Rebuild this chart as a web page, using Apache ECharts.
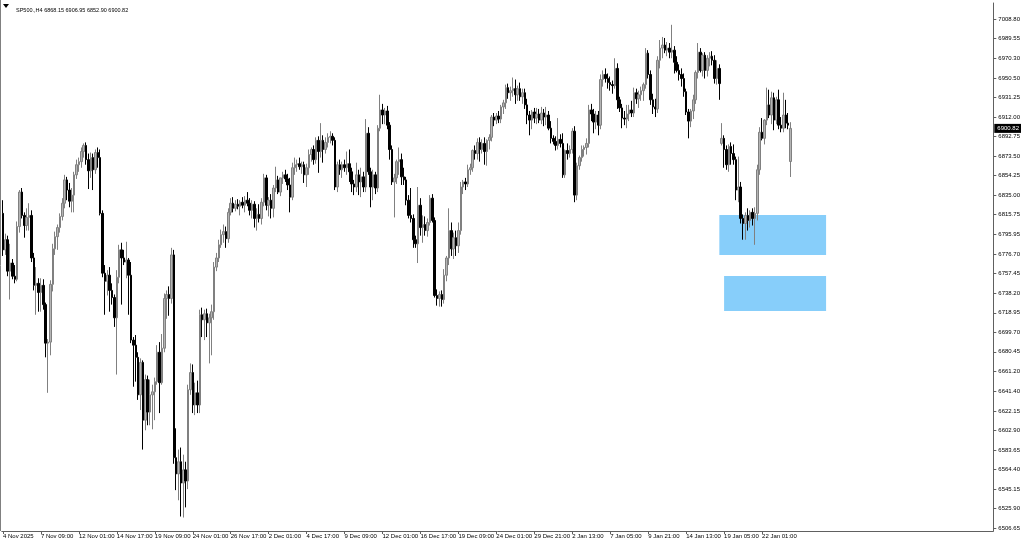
<!DOCTYPE html>
<html>
<head>
<meta charset="utf-8">
<script src="https://cdn.jsdelivr.net/npm/echarts@6/dist/echarts.min.js"></script>
<style>
html,body{margin:0;padding:0;background:#fff;}
#chart{width:1024px;height:542px;}
</style>
</head>
<body>
<div id="chart"></div>
<script>
// ---- DATA ----
const symbolTitle = 'SP500.,H4';
const FULL = [1, 5, 9, 13, 17, 21];
// trading sessions (day label, H4 bar opening hours)
const sessions = [
  ['4 Nov', [17, 21]], ['5 Nov', FULL], ['6 Nov', FULL], ['7 Nov', FULL],
  ['10 Nov', FULL], ['11 Nov', FULL], ['12 Nov', FULL], ['13 Nov', FULL], ['14 Nov', FULL],
  ['17 Nov', FULL], ['18 Nov', FULL], ['19 Nov', FULL], ['20 Nov', FULL], ['21 Nov', FULL],
  ['24 Nov', FULL], ['25 Nov', FULL], ['26 Nov', FULL], ['27 Nov', [1, 5, 9, 13, 17]], ['28 Nov', [1, 5, 9]],
  ['1 Dec', FULL], ['2 Dec', FULL], ['3 Dec', FULL], ['4 Dec', FULL], ['5 Dec', FULL],
  ['8 Dec', FULL], ['9 Dec', FULL], ['10 Dec', FULL], ['11 Dec', FULL], ['12 Dec', FULL],
  ['15 Dec', FULL], ['16 Dec', FULL], ['17 Dec', FULL], ['18 Dec', FULL], ['19 Dec', FULL],
  ['22 Dec', FULL], ['23 Dec', FULL], ['24 Dec', [1, 5, 9, 13, 17]], ['26 Dec', FULL],
  ['29 Dec', FULL], ['30 Dec', FULL], ['31 Dec', FULL], ['2 Jan', FULL],
  ['5 Jan', FULL], ['6 Jan', FULL], ['7 Jan', FULL], ['8 Jan', FULL], ['9 Jan', FULL],
  ['12 Jan', FULL], ['13 Jan', FULL], ['14 Jan', FULL], ['15 Jan', FULL], ['16 Jan', FULL],
  ['19 Jan', [1, 5, 9, 13, 17]], ['20 Jan', FULL], ['21 Jan', FULL], ['22 Jan', FULL], ['23 Jan', FULL],
  ['26 Jan', [1]]
];

// [open, high, low, close] per H4 bar
const ohlc = [
[6817,6830,6775,6781],[6781,6797,6776,6791],[6791,6795,6755,6760],[6760,6787,6732,6768],[6768,6772,6752,6755],
[6755,6766,6748,6752],[6752,6809,6750,6804],[6804,6840,6798,6838],[6838,6842,6812,6815],[6815,6818,6793,6805],
[6805,6822,6800,6813],[6813,6827,6800,6815],[6815,6820,6769,6773],[6773,6778,6741,6746],[6746,6764,6717,6748],
[6748,6753,6720,6739],[6739,6753,6720,6746],[6746,6752,6722,6727],[6727,6729,6675,6689],[6689,6693,6640,6690],
[6690,6751,6677,6747],[6747,6787,6740,6782],[6782,6799,6776,6794],[6794,6806,6781,6803],[6803,6817,6798,6814],
[6814,6832,6810,6827],[6827,6855,6822,6850],[6850,6853,6830,6840],[6840,6847,6823,6829],[6829,6842,6818,6835],
[6835,6858,6818,6855],[6855,6870,6851,6865],[6865,6872,6858,6868],[6868,6882,6862,6878],[6878,6886,6872,6884],
[6884,6887,6865,6870],[6870,6876,6841,6859],[6859,6877,6852,6872],[6872,6876,6840,6860],[6860,6880,6856,6877],
[6877,6882,6862,6872],[6872,6880,6815,6817],[6817,6820,6754,6758],[6758,6766,6717,6750],[6750,6761,6736,6756],
[6756,6764,6720,6741],[6741,6748,6727,6734],[6734,6737,6705,6714],[6714,6761,6658,6754],[6754,6786,6748,6781],
[6781,6788,6727,6773],[6773,6781,6766,6769],[6769,6789,6753,6771],[6771,6773,6717,6756],[6756,6769,6689,6692],
[6692,6695,6646,6687],[6687,6697,6651,6675],[6675,6680,6633,6638],[6638,6674,6623,6670],[6670,6672,6584,6613],
[6613,6658,6603,6653],[6653,6657,6608,6621],[6621,6653,6608,6638],[6638,6648,6604,6641],[6641,6655,6613,6651],
[6651,6687,6648,6680],[6680,6690,6620,6650],[6650,6698,6648,6684],[6684,6738,6680,6733],[6733,6741,6713,6737],
[6737,6745,6716,6733],[6733,6783,6728,6776],[6776,6781,6570,6576],[6576,6605,6544,6560],[6560,6584,6534,6572],
[6572,6586,6518,6551],[6551,6579,6517,6564],[6564,6572,6527,6553],[6553,6648,6545,6643],[6643,6669,6638,6660],
[6660,6668,6620,6628],[6628,6650,6618,6640],[6640,6652,6620,6628],[6628,6722,6620,6717],[6717,6724,6695,6712],
[6712,6722,6692,6718],[6718,6723,6695,6709],[6709,6718,6669,6714],[6714,6727,6677,6720],[6720,6769,6712,6764],
[6764,6778,6760,6773],[6773,6791,6769,6786],[6786,6801,6783,6796],[6796,6806,6788,6799],[6799,6804,6783,6792],
[6792,6822,6788,6818],[6818,6832,6815,6827],[6827,6833,6818,6822],[6822,6830,6819,6826],[6826,6831,6821,6824],
[6824,6830,6815,6828],[6828,6833,6822,6825],[6825,6834,6818,6830],[6830,6838,6824,6827],[6827,6832,6815,6820],
[6820,6830,6812,6826],[6826,6829,6803,6812],[6812,6822,6800,6816],[6816,6826,6808,6812],[6812,6832,6806,6828],
[6828,6856,6824,6852],[6852,6855,6820,6825],[6825,6833,6814,6830],[6830,6836,6812,6822],[6822,6845,6813,6842],
[6842,6863,6838,6850],[6850,6854,6836,6838],[6838,6852,6834,6852],[6852,6858,6846,6855],[6855,6860,6848,6851],
[6851,6856,6840,6845],[6845,6852,6818,6833],[6833,6867,6830,6862],[6862,6872,6855,6865],[6865,6870,6858,6866],
[6866,6872,6860,6863],[6863,6868,6856,6865],[6865,6868,6847,6855],[6855,6866,6843,6862],[6862,6880,6855,6875],
[6875,6882,6868,6880],[6880,6884,6865,6870],[6870,6892,6866,6889],[6889,6893,6857,6878],[6878,6906,6872,6889],
[6889,6894,6867,6880],[6880,6892,6876,6887],[6887,6896,6882,6892],[6892,6898,6886,6893],[6893,6896,6884,6889],
[6889,6892,6840,6843],[6843,6868,6838,6865],[6865,6870,6855,6860],[6860,6868,6852,6865],[6865,6870,6858,6862],
[6862,6878,6855,6866],[6866,6880,6848,6858],[6858,6862,6838,6846],[6846,6850,6835,6843],[6843,6867,6838,6855],
[6855,6860,6835,6848],[6848,6862,6833,6853],[6853,6858,6838,6843],[6843,6910,6838,6896],[6896,6902,6855,6858],
[6858,6862,6823,6843],[6843,6860,6830,6855],[6855,6858,6836,6842],[6842,6904,6838,6901],[6901,6934,6898,6919],
[6919,6925,6905,6914],[6914,6921,6905,6918],[6918,6923,6900,6904],[6904,6907,6870,6880],[6880,6884,6845,6848],
[6848,6856,6813,6852],[6852,6870,6846,6868],[6868,6882,6855,6870],[6870,6876,6845,6853],[6853,6862,6845,6850],
[6850,6853,6825,6830],[6830,6835,6812,6815],[6815,6842,6808,6812],[6812,6816,6783,6791],[6791,6795,6783,6787],
[6787,6843,6768,6825],[6825,6832,6795,6803],[6803,6815,6788,6806],[6806,6814,6795,6800],[6800,6812,6794,6808],
[6808,6835,6805,6832],[6832,6836,6808,6810],[6810,6813,6734,6736],[6736,6742,6726,6733],[6733,6740,6725,6737],
[6737,6741,6725,6732],[6732,6762,6728,6756],[6756,6775,6750,6773],[6773,6822,6766,6800],[6800,6808,6775,6782],
[6782,6798,6772,6793],[6793,6800,6775,6785],[6785,6808,6778,6800],[6800,6848,6796,6843],[6843,6850,6836,6848],
[6848,6852,6840,6846],[6846,6865,6843,6860],[6860,6866,6855,6862],[6862,6880,6858,6879],[6879,6884,6870,6876],
[6876,6891,6870,6887],[6887,6892,6868,6880],[6880,6890,6876,6886],[6886,6892,6865,6878],[6878,6890,6864,6889],
[6889,6895,6880,6892],[6892,6914,6888,6912],[6912,6916,6903,6909],[6909,6916,6905,6913],[6913,6918,6906,6910],
[6910,6924,6906,6922],[6922,6929,6915,6926],[6926,6944,6920,6941],[6941,6945,6930,6936],[6936,6942,6928,6938],
[6938,6951,6932,6940],[6940,6949,6925,6934],[6934,6943,6928,6940],[6940,6946,6928,6932],[6932,6940,6925,6936],
[6936,6940,6920,6924],[6924,6930,6905,6914],[6914,6918,6894,6909],[6909,6919,6900,6917],[6917,6921,6906,6911],
[6911,6921,6905,6915],[6915,6920,6906,6909],[6909,6922,6905,6916],[6916,6920,6903,6912],[6912,6922,6904,6914],
[6914,6918,6899,6901],[6901,6908,6886,6891],[6891,6894,6885,6888],[6888,6893,6879,6884],[6884,6911,6880,6890],
[6890,6895,6882,6886],[6886,6896,6852,6855],[6855,6880,6852,6879],[6879,6886,6870,6876],[6876,6884,6872,6880],
[6880,6901,6876,6898],[6898,6903,6828,6835],[6835,6867,6830,6864],[6864,6874,6860,6872],[6872,6884,6868,6880],
[6880,6884,6873,6882],[6882,6891,6875,6886],[6886,6924,6882,6919],[6919,6925,6908,6915],[6915,6920,6896,6907],
[6907,6918,6900,6914],[6914,6918,6894,6904],[6904,6954,6900,6949],[6949,6958,6942,6954],[6954,6960,6946,6950],
[6950,6955,6940,6946],[6946,6952,6938,6944],[6944,6948,6935,6943],[6943,6970,6940,6960],[6960,6965,6920,6929],
[6929,6932,6917,6921],[6921,6925,6901,6911],[6911,6918,6904,6910],[6910,6924,6901,6915],[6915,6924,6908,6919],
[6919,6928,6912,6916],[6916,6941,6912,6936],[6936,6940,6925,6930],[6930,6938,6921,6934],[6934,6942,6928,6938],
[6938,6946,6928,6944],[6944,6980,6940,6975],[6975,6978,6950,6954],[6954,6958,6924,6929],[6929,6935,6915,6922],
[6922,6930,6912,6920],[6920,6972,6916,6968],[6968,6988,6960,6980],[6980,6991,6970,6983],[6983,6990,6975,6978],
[6978,6986,6972,6980],[6980,6985,6970,6976],[6976,7003,6970,6978],[6978,6982,6955,6966],[6966,6972,6956,6958],
[6958,6964,6948,6954],[6954,6960,6942,6950],[6950,6955,6932,6937],[6937,6940,6914,6917],[6917,6920,6891,6908],
[6908,6920,6902,6918],[6918,6934,6910,6929],[6929,6958,6925,6956],[6956,6985,6950,6976],[6976,6980,6956,6958],
[6958,6975,6952,6973],[6973,6976,6950,6958],[6958,6973,6952,6970],[6970,6976,6962,6972],[6972,6977,6963,6968],
[6968,6973,6945,6950],[6950,6968,6944,6960],[6960,6964,6929,6945],[6886,6906,6884,6891],[6891,6894,6862,6880],
[6880,6884,6860,6865],[6865,6885,6858,6883],[6883,6887,6865,6876],[6876,6885,6865,6870],[6870,6873,6830,6840],
[6840,6873,6828,6843],[6843,6848,6807,6812],[6812,6816,6791,6807],[6807,6818,6791,6815],[6815,6822,6800,6810],
[6810,6820,6803,6818],[6818,6822,6805,6812],[6812,6823,6786,6817],[6817,6865,6810,6860],[6860,6902,6855,6897],
[6897,6911,6889,6891],[6891,6910,6885,6909],[6909,6941,6904,6924],[6924,6939,6911,6914],[6914,6937,6905,6931],
[6931,6936,6899,6909],[6909,6932,6905,6929],[6929,6939,6900,6904],[6904,6912,6897,6901],[6901,6936,6897,6914],
[6914,6929,6901,6906],[6906,6916,6900,6904],[6868.15,6906.95,6852.90,6900.82]
];

// x-axis tick positions (bar time) and their texts
const xTickBars = ['4 Nov 17:00','7 Nov 09:00','12 Nov 01:00','14 Nov 17:00','19 Nov 09:00','24 Nov 01:00',
  '26 Nov 17:00','2 Dec 01:00','4 Dec 17:00','9 Dec 09:00','12 Dec 01:00','16 Dec 17:00','19 Dec 09:00',
  '24 Dec 01:00','29 Dec 21:00','2 Jan 13:00','7 Jan 05:00','9 Jan 21:00','14 Jan 13:00','19 Jan 05:00','22 Jan 01:00'];
const xTickTexts = ['4 Nov 2025','7 Nov 09:00','12 Nov 01:00','14 Nov 17:00','19 Nov 09:00','24 Nov 01:00',
  '26 Nov 17:00','2 Dec 01:00','4 Dec 17:00','9 Dec 09:00','12 Dec 01:00','16 Dec 17:00','19 Dec 09:00',
  '24 Dec 01:00','29 Dec 21:00','2 Jan 13:00','7 Jan 05:00','9 Jan 21:00','14 Jan 13:00','19 Jan 05:00','22 Jan 01:00'];

// price-axis tick labels
const yTicks = [7008.80,6989.55,6970.30,6950.50,6931.25,6912.00,6892.75,6873.50,6854.25,6835.00,6815.75,
  6795.95,6776.70,6757.45,6738.20,6718.95,6699.70,6680.45,6661.20,6641.40,6622.15,6602.90,6583.65,
  6564.40,6545.15,6525.90,6506.65];
const yMin = 6503.7, yMax = 7024.5;

// demand zones: [first bar time, width in bar slots, top price, bottom price]
const zones = [
  ['16 Jan 21:00', 45, 6815.4, 6776.0],
  ['19 Jan 05:00', 43, 6755.2, 6720.7]
];
const emptySlotsRight = 85; // chart shift space

// ---- BUILD ----
const pad2 = h => (h < 10 ? '0' : '') + h + ':00';
const cats = [];
sessions.forEach(([d, hs]) => hs.forEach(h => cats.push(d + ' ' + pad2(h))));
for (let k = 0; k < emptySlotsRight; k++) cats.push('slot' + k);

const candle = ohlc.map(([o, h, l, c]) => [o, c, l, h]);
const last = ohlc[ohlc.length - 1];
const isTick = (i) => xTickBars.indexOf(cats[i]) >= 0;

const zoneData = zones.map(([t, n, top, bot]) => {
  const s = cats.indexOf(t);
  return [{ coord: [s, top] }, { coord: [s + n, bot] }];
});

const FONT = 'Liberation Sans';
const axisColor = '#606060';
const chart = echarts.init(document.getElementById('chart'), null, { renderer: 'canvas' });
chart.setOption({
  animation: false,
  backgroundColor: '#ffffff',
  title: {
    text: symbolTitle + ' ' + last.map(v => v.toFixed(2)).join(' '),
    left: 11, top: 2,
    textStyle: { fontFamily: FONT, fontSize: 5.5, fontWeight: 'normal', color: '#000' }
  },
  graphic: [
    { type: 'polygon', shape: { points: [[3, 4], [9, 4], [6, 8]] }, style: { fill: '#000' } },
    { type: 'line', shape: { x1: 0.5, y1: 0, x2: 0.5, y2: 531 }, style: { stroke: '#808080', lineWidth: 1 } }
  ],
  grid: { left: 0, right: 28, top: 3, bottom: 11, containLabel: false },
  xAxis: {
    type: 'category',
    data: cats,
    boundaryGap: true,
    axisLine: { show: true, lineStyle: { color: axisColor, width: 1 } },
    axisTick: { show: true, interval: (i) => isTick(i), alignWithLabel: true, length: 3, lineStyle: { color: axisColor } },
    axisLabel: {
      interval: (i) => isTick(i),
      formatter: (v) => { const k = xTickBars.indexOf(v); return k >= 0 ? xTickTexts[k] : ''; },
      align: 'left', margin: 2, padding: [0, 0, 0, 0],
      fontFamily: FONT, fontSize: 6, color: '#000'
    },
    splitLine: { show: false }
  },
  yAxis: [
    {
      type: 'value',
      position: 'right',
      min: yMin, max: yMax,
      axisLine: { show: true, lineStyle: { color: axisColor, width: 1 } },
      axisTick: { show: true, customValues: yTicks, length: 3, lineStyle: { color: axisColor } },
      axisLabel: {
        customValues: yTicks,
        formatter: (v) => Number(v).toFixed(2),
        margin: 5, fontFamily: FONT, fontSize: 6, color: '#000'
      },
      splitLine: { show: false }
    },
    {
      type: 'value',
      position: 'right',
      min: yMin, max: yMax,
      z: 10,
      axisLine: { show: false },
      axisTick: { show: false },
      axisLabel: {
        customValues: [last[3]],
        formatter: (v) => Number(v).toFixed(2),
        margin: 1, fontFamily: FONT, fontSize: 6, color: '#ffffff',
        backgroundColor: '#000000', padding: [2, 2, 1, 3]
      },
      splitLine: { show: false }
    }
  ],
  series: [
    {
      type: 'line', data: [], z: 1, silent: true,
      markArea: {
        silent: true,
        itemStyle: { color: '#87cefa', opacity: 1 },
        data: zoneData
      }
    },
    {
      type: 'candlestick',
      z: 3,
      data: candle,
      barWidth: 2,
      itemStyle: {
        color: '#b4b4b4', color0: '#000000',
        borderColor: '#808080', borderColor0: '#000000',
        borderWidth: 1
      }
    }
  ]
});
</script>
</body>
</html>
